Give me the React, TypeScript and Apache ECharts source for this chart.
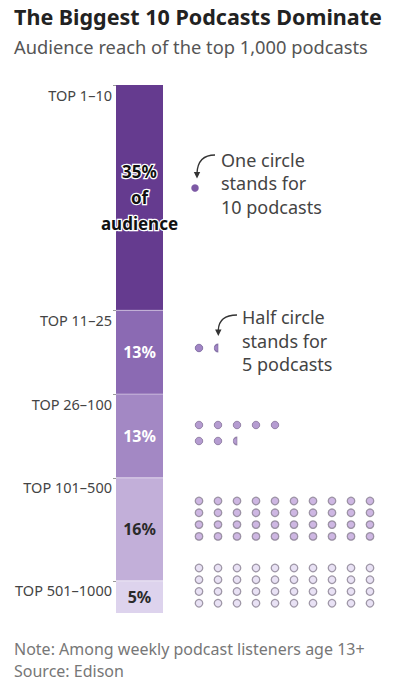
import React, { useEffect, useRef } from 'react';
import * as echarts from 'echarts';

// ---- data ----
const categories = ['TOP 1–10', 'TOP 11–25', 'TOP 26–100', 'TOP 101–500', 'TOP 501–1000'];
const shares = [35, 13, 13, 16, 5];
const shareLabels = ['35%\nof\naudience', '13%', '13%', '16%', '5%'];
const podcastCounts = [10, 15, 75, 400, 500];
const podcastsPerCircle = 10;

// ---- styles / layout ----
const FONT = '"Noto Sans", sans-serif';
const barColors = ['#653b8f', '#8b6ab3', '#a388c4', '#c2afd9', '#ddd3ed'];
const labelColors = ['#111111', '#ffffff', '#ffffff', '#2a2a2a', '#2a2a2a'];
const dotFill = ['#5c2f8f', '#8a66b6', '#a283c6', '#c2a5dc', '#e4dbf3'];
const dotStroke = ['#5c2f8f', '#76639a', '#857299', '#898192', '#898192'];
const dotColumns = [1, 2, 5, 10, 10];
const dotTop = [103, 263, 340, 416, 483];
const dotRowGap = [0, 0, 16, 11.8, 11.75];
const dotShiftX = [-0.21, 0, 0, 0, 0];

const cumStarts: number[] = [];
shares.reduce((acc, v) => {
  cumStarts.push(acc);
  return acc + v;
}, 0);
const totalShare = shares.reduce((a, b) => a + b, 0);

const HALF_PATH = 'path://M5,0 A5,5 0 0 0 5,10 Z';

function buildDots() {
  const series: any[] = [];
  podcastCounts.forEach((count, g) => {
    const circles = count / podcastsPerCircle;
    const full = Math.floor(circles);
    const hasHalf = circles - full >= 0.5;
    const fullData: number[][] = [];
    for (let i = 0; i < full; i++) {
      const col = i % dotColumns[g];
      const row = Math.floor(i / dotColumns[g]);
      fullData.push([col + dotShiftX[g], dotTop[g] + row * dotRowGap[g]]);
    }
    const common = {
      type: 'scatter',
      xAxisIndex: 1,
      yAxisIndex: 1,
      silent: true,
      itemStyle: {
        color: dotFill[g],
        borderColor: dotStroke[g],
        borderWidth: g === 0 ? 0 : g >= 3 ? 1.3 : 1,
      },
      z: 5,
    };
    series.push({
      ...common,
      symbol: 'circle',
      symbolSize: 7.5,
      data: fullData,
    });
    if (hasHalf) {
      const col = full % dotColumns[g];
      const row = Math.floor(full / dotColumns[g]);
      series.push({
        ...common,
        symbol: HALF_PATH,
        symbolSize: [3.8, 7.6],
        symbolOffset: [-1.9, 0],
        data: [[col + dotShiftX[g], dotTop[g] + row * dotRowGap[g]]],
      });
    }
  });
  return series;
}

export default function App() {
  const ref = useRef<HTMLDivElement>(null);
  useEffect(() => {
    if (!ref.current) return;
    const chart = echarts.init(ref.current, null, { renderer: 'svg' });
    const barSeries = shares.map((v, i) => ({
      type: 'bar',
      name: categories[i],
      stack: 'total',
      barWidth: 47,
      xAxisIndex: 0,
      yAxisIndex: 0,
      data: [v],
      itemStyle: { color: barColors[i] },
      label: {
        show: true,
        position: 'inside',
        formatter: () => shareLabels[i],
        color: labelColors[i],
        fontFamily: FONT,
        fontWeight: 'bold',
        fontSize: i === 0 ? 17 : 16,
        lineHeight: i === 0 ? 26 : 18,
        textBorderColor: i === 0 ? '#ffffff' : 'transparent',
        textBorderWidth: i === 0 ? 2.5 : 0,
      },
      z: 2,
    }));
    const option: any = {
      animation: false,
      grid: [
        { left: 116, top: 85, width: 47, height: 528, containLabel: false },
        { left: 189.5, top: 85, width: 180.5, height: 528, containLabel: false },
      ],
      xAxis: [
        { type: 'category', gridIndex: 0, data: ['all'], show: false },
        { type: 'value', gridIndex: 1, min: -0.5, max: 9, show: false },
      ],
      yAxis: [
        {
          type: 'value',
          gridIndex: 0,
          min: 0,
          max: totalShare,
          inverse: true,
          splitLine: { show: false },
          axisLine: { show: false },
          axisTick: {
            show: true,
            customValues: cumStarts,
            length: 3,
            lineStyle: { color: '#9a9a9a', width: 1 },
          },
          axisLabel: {
            show: true,
            customValues: cumStarts,
            formatter: (v: number) => {
              const idx = cumStarts.findIndex((c) => Math.abs(c - v) < 1e-6);
              return idx >= 0 ? categories[idx] : '';
            },
            color: '#444',
            fontFamily: FONT,
            fontSize: 14.5,
            verticalAlign: 'top',
            padding: [2, 0, 0, 0],
            margin: 4,
          },
        },
        { type: 'value', gridIndex: 1, min: 0, max: 528, inverse: true, show: false },
      ],
      series: [
        ...barSeries,
        {
          type: 'scatter',
          xAxisIndex: 0,
          yAxisIndex: 0,
          silent: true,
          symbol: 'rect',
          symbolSize: [47, 1.2],
          itemStyle: { color: 'rgba(255,255,255,0.45)' },
          data: cumStarts.slice(1).map((c) => [0, c]),
          z: 4,
        },
        ...buildDots(),
      ],
      graphic: [
        {
          type: 'text',
          left: 14,
          top: 5,
          style: {
            text: 'The Biggest 10 Podcasts Dominate',
            font: `bold 21.5px ${FONT}`,
            fill: '#222',
          },
        },
        {
          type: 'text',
          left: 14,
          top: 37,
          style: {
            text: 'Audience reach of the top 1,000 podcasts',
            font: `18.3px ${FONT}`,
            fill: '#555',
          },
        },
        {
          type: 'text',
          x: 221,
          y: 183,
          style: {
            text: 'One circle\nstands for\n10 podcasts',
            font: `18px ${FONT}`,
            lineHeight: 23.5,
            fill: '#444',
            verticalAlign: 'middle',
          },
        },
        {
          type: 'text',
          x: 242,
          y: 340.5,
          style: {
            text: 'Half circle\nstands for\n5 podcasts',
            font: `18px ${FONT}`,
            lineHeight: 23.5,
            fill: '#444',
            verticalAlign: 'middle',
          },
        },
        {
          type: 'bezierCurve',
          shape: { x1: 215, y1: 155, cpx1: 198, cpy1: 155, x2: 197, y2: 173 },
          style: { stroke: '#333', lineWidth: 1.3, fill: null },
        },
        {
          type: 'polygon',
          shape: { points: [[193.8, 172], [200.2, 172], [197, 178.5]] },
          style: { fill: '#333' },
        },
        {
          type: 'bezierCurve',
          shape: { x1: 237, y1: 315, cpx1: 219, cpy1: 315, x2: 218.3, y2: 330 },
          style: { stroke: '#333', lineWidth: 1.3, fill: null },
        },
        {
          type: 'polygon',
          shape: { points: [[215.1, 329.5], [221.5, 329.5], [218.3, 336]] },
          style: { fill: '#333' },
        },
        {
          type: 'text',
          x: 14,
          y: 660,
          style: {
            text: 'Note: Among weekly podcast listeners age 13+\nSource: Edison',
            font: `16px ${FONT}`,
            lineHeight: 22,
            fill: '#777',
            verticalAlign: 'middle',
          },
        },
      ],
    };
    chart.setOption(option);
    return () => chart.dispose();
  }, []);
  return (
    <div
      ref={ref}
      style={{ position: 'absolute', left: 0, top: 0, width: 396, height: 699, background: '#fff' }}
    />
  );
}
